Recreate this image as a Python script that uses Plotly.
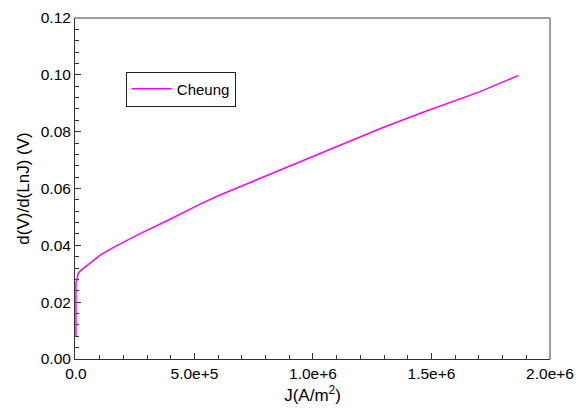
import plotly.graph_objects as go

# Data
J = [0, 0, 0, 0, 4.2e3, 9.7e3, 2.1e4, 6.3e4, 1.05e5, 1.61e5, 2.6e5, 3.93e5,
     5.26e5, 6.1e5, 7.79e5, 9.47e5, 1.116e6, 1.285e6, 1.453e6, 1.621e6, 1.705e6, 1.867e6]
dVdlnJ = [0.0079, 0.015, 0.022, 0.027, 0.0279, 0.0302, 0.0312, 0.0338, 0.0367, 0.0394,
          0.0437, 0.0490, 0.0546, 0.0578, 0.0636, 0.0695, 0.0754, 0.0811, 0.0865,
          0.0914, 0.0941, 0.0998]
series_name = "Cheung"

x_tickvals = [0, 5e5, 1e6, 1.5e6, 2e6]
x_ticktext = ["0.0", "5.0e+5", "1.0e+6", "1.5e+6", "2.0e+6"]
y_tickvals = [0, 0.02, 0.04, 0.06, 0.08, 0.10, 0.12]
y_ticktext = ["0.00", "0.02", "0.04", "0.06", "0.08", "0.10", "0.12"]

font = "Liberation Sans, Arial, sans-serif"

fig = go.Figure()
fig.add_trace(go.Scatter(x=J, y=dVdlnJ, mode="lines", name=series_name,
                         line=dict(color="#FF00FF", width=1.5)))

fig.update_layout(
    width=576, height=412,
    margin=dict(l=75, r=26, t=18, b=53),
    paper_bgcolor="white", plot_bgcolor="white",
    font=dict(family=font, size=15.5, color="black"),
    showlegend=True,
    legend=dict(x=0.107, y=0.843, xanchor="left", yanchor="top",
                bordercolor="#222", borderwidth=1, bgcolor="white",
                font=dict(size=15), itemwidth=40),
    xaxis=dict(range=[-4000, 2e6], tickvals=x_tickvals, ticktext=x_ticktext,
               ticks="inside", ticklen=6, tickcolor="#333", automargin=False,
               tickfont=dict(size=15.5),
               showline=True, linecolor="#333", linewidth=1, mirror=False,
               showgrid=False, zeroline=False, layer="below traces",
               minor=dict(dtick=1e5, ticks="inside", ticklen=4, tickcolor="#333"),
               title=dict(text="J(A/m<sup>2</sup>)", font=dict(size=17), standoff=8)),
    yaxis=dict(range=[0, 0.12], tickvals=y_tickvals, ticktext=y_ticktext,
               ticks="inside", ticklen=6, tickcolor="#333", automargin=False,
               showline=True, linecolor="#333", linewidth=1, mirror=False,
               showgrid=False, zeroline=False, layer="below traces",
               minor=dict(dtick=0.004, ticks="inside", ticklen=4, tickcolor="#333"),
               title=dict(text="d(V)/d(LnJ) (V)", font=dict(size=17), standoff=6)),
)
# top and right frame lines in gray
fig.add_shape(type="line", xref="paper", yref="paper", x0=0, x1=1, y0=1, y1=1,
              line=dict(color="#808080", width=1.5))
fig.add_shape(type="line", xref="paper", yref="paper", x0=1, x1=1, y0=0, y1=1,
              line=dict(color="#808080", width=1.5))

# remove the browser's default 8px body margin so the figure fills the window
fig.write_html("out.html",
               config={"displayModeBar": False},
               post_script="document.body.style.margin='0';document.body.style.overflow='hidden';")
